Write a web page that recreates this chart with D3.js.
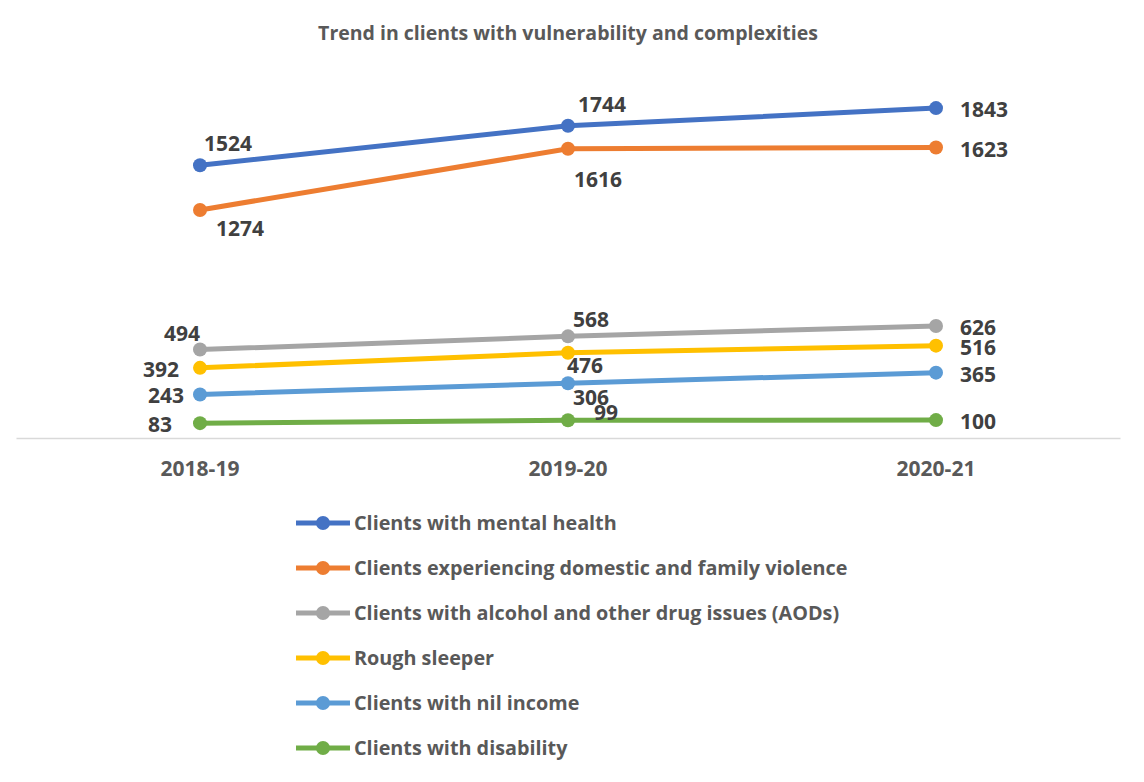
<!DOCTYPE html>
<html>
<head>
<meta charset="utf-8">
<script src="https://cdn.jsdelivr.net/npm/d3@7"></script>
<style>
  html, body { margin: 0; padding: 0; background: #fff; }
  svg { display: block; font-family: "Open Sans", Lato, sans-serif; font-weight: bold; }
</style>
</head>
<body>
<svg id="chart" width="1144" height="782"></svg>
<script>
// Financial years on the category axis
const years = ["2018-19", "2019-20", "2020-21"];

// Series names, in legend order
const seriesNames = [
  "Clients with mental health",
  "Clients experiencing domestic and family violence",
  "Clients with alcohol and other drug issues (AODs)",
  "Rough sleeper",
  "Clients with nil income",
  "Clients with disability"
];

// Client counts per year
const mentalHealth = [1524, 1744, 1843];
const familyViolence = [1274, 1616, 1623];
const alcoholDrugs = [494, 568, 626];
const roughSleeper = [392, 476, 516];
const nilIncome = [243, 306, 365];
const disability = [83, 99, 100];

const seriesValues = [mentalHealth, familyViolence, alcoholDrugs, roughSleeper, nilIncome, disability];
const seriesColors = ["#4472C4", "#ED7D31", "#A5A5A5", "#FFC000", "#5B9BD5", "#70AD47"];

// Label placement (offset of label centre from its point) per series/point;
// null x means the label sits to the right of the point
const labelOffsets = [
  [[28, -22], [34, -21], [null, 1]],
  [[40, 18], [30, 31], [null, 2]],
  [[-18, -16], [23, -17], [null, 1]],
  [[-39, 2], [17, 13], [null, 2]],
  [[-34, 1], [23, 14], [null, 2]],
  [[-40, 1], [38, -8], [null, 1]]
];

const svg = d3.select("#chart");
const plot = { left: 16, right: 1120, top: 80, bottom: 438 };

const x = d3.scaleBand().domain(years).range([plot.left, plot.right]).padding(0);
const cx = d => x(d) + x.bandwidth() / 2;
const y = d3.scaleLinear().domain([0, 2000]).range([plot.bottom, plot.top]);

// Title
svg.append("text")
  .attr("x", 568).attr("y", 40)
  .attr("text-anchor", "middle")
  .attr("fill", "#595959")
  .style("font-size", "19.5px")
  .text("Trend in clients with vulnerability and complexities");

// Category axis (baseline + labels)
const xAxis = d3.axisBottom(x).tickSize(0).tickPadding(23);
const gx = svg.append("g").attr("transform", `translate(0,${plot.bottom})`).call(xAxis);
gx.select(".domain").attr("stroke", "#D9D9D9").attr("stroke-width", 1.5);
gx.selectAll(".tick text")
  .attr("fill", "#595959")
  .style("font-size", "21px")
  .style("font-family", "'Open Sans', sans-serif")
  .style("font-weight", "bold");

// Lines and markers
const line = d3.line().x((d, i) => cx(years[i])).y(d => y(d));

seriesValues.forEach((vals, s) => {
  const g = svg.append("g");
  g.append("path")
    .datum(vals)
    .attr("d", line)
    .attr("fill", "none")
    .attr("stroke", seriesColors[s])
    .attr("stroke-width", 5)
    .attr("stroke-linecap", "round");
  g.selectAll("circle")
    .data(vals)
    .join("circle")
    .attr("cx", (d, i) => cx(years[i]))
    .attr("cy", d => y(d))
    .attr("r", 7)
    .attr("fill", seriesColors[s]);
});

// Data labels
seriesValues.forEach((vals, s) => {
  svg.append("g").selectAll("text")
    .data(vals)
    .join("text")
    .attr("x", (d, i) => {
      const o = labelOffsets[s][i];
      return o[0] === null ? cx(years[i]) + 24 : cx(years[i]) + o[0];
    })
    .attr("y", (d, i) => y(d) + labelOffsets[s][i][1])
    .attr("dy", "0.36em")
    .attr("text-anchor", (d, i) => labelOffsets[s][i][0] === null ? "start" : "middle")
    .attr("fill", "#404040")
    .style("font-size", "21px")
    .text(d => d);
});

// Legend
const legend = svg.append("g");
seriesNames.forEach((name, s) => {
  const ly = 523 + s * 45;
  const row = legend.append("g").attr("transform", `translate(0,${ly})`);
  row.append("line")
    .attr("x1", 296).attr("x2", 350)
    .attr("stroke", seriesColors[s]).attr("stroke-width", 5);
  row.append("circle").attr("cx", 323).attr("r", 7).attr("fill", seriesColors[s]);
  row.append("text")
    .attr("x", 354).attr("dy", "0.36em")
    .attr("fill", "#595959")
    .style("font-size", "19.8px")
    .text(name);
});
</script>
</body>
</html>
